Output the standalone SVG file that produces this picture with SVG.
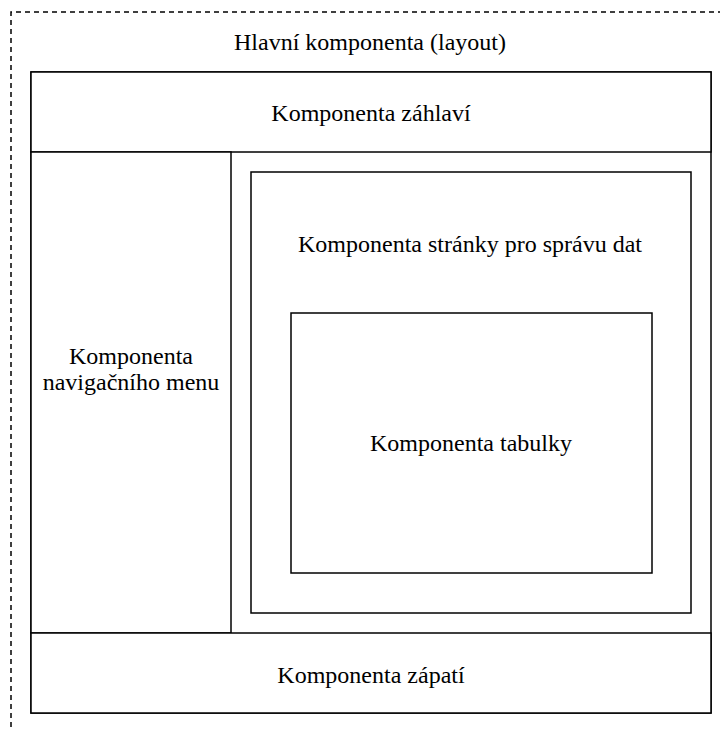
<svg xmlns="http://www.w3.org/2000/svg" width="720" height="731" viewBox="0 0 720 731">
  <style>
    .box { fill: #ffffff; stroke: #000000; stroke-width: 1.5; }
    .frame { fill: none; stroke: #000000; stroke-width: 1.5; stroke-dasharray: 5 4; }
    .label { font-size: 24px; fill: #000000; text-anchor: middle; }
  </style>
  <rect width="720" height="731" fill="#ffffff"/>

  <g font-family="Tinos, 'Liberation Serif', 'DejaVu Serif', serif">
  <!-- layout frame (dashed, running past the canvas edge) -->
  <g id="layout">
    <path class="frame" d="M11 745 V12 H735"/>
    <text class="label" x="370" y="50">Hlavní komponenta (layout)</text>
  </g>

  <!-- outer container -->
  <g id="container">
    <rect class="box" x="31" y="72" width="680" height="641"/>
  </g>

  <g id="header">
    <rect class="box" x="31" y="72" width="680" height="80"/>
    <text class="label" x="371" y="121">Komponenta záhlaví</text>
  </g>

  <g id="nav">
    <rect class="box" x="31" y="152" width="200" height="481"/>
    <text class="label" x="131" y="364">Komponenta</text>
    <text class="label" x="131" y="390">navigačního menu</text>
  </g>

  <g id="page">
    <rect class="box" x="251" y="172" width="440" height="441"/>
    <text class="label" x="470" y="252">Komponenta stránky pro správu dat</text>
  </g>

  <g id="table">
    <rect class="box" x="291" y="313" width="361" height="260"/>
    <text class="label" x="471" y="451">Komponenta tabulky</text>
  </g>

  <g id="footer">
    <rect class="box" x="31" y="633" width="680" height="80"/>
    <text class="label" x="371" y="683">Komponenta zápatí</text>
  </g>
  </g>

  <g id="connectors"></g>
</svg>
